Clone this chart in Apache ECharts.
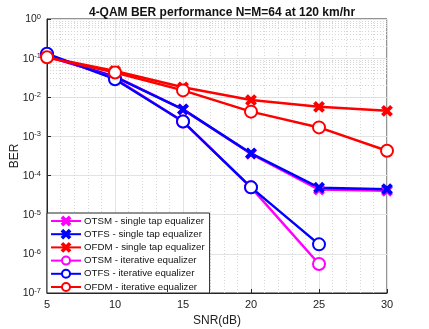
<!DOCTYPE html>
<html>
<head>
<meta charset="utf-8">
<script src="https://cdn.jsdelivr.net/npm/echarts@6/dist/echarts.min.js"></script>
<style>
  html, body { margin: 0; padding: 0; background: #fff; }
  #chart { width: 429px; height: 329px; }
</style>
</head>
<body>
<div id="chart"></div>
<script>
  // SNR points (dB)
  const snr = [5, 10, 15, 20, 25, 30]
  // BER
  const otsmSingle = [0.11, 0.034, 0.0049, 0.00036, 0.000044, 0.000041]
  const otfsSingle = [0.115, 0.033, 0.0049, 0.00037, 0.000049, 0.000045]
  const ofdmSingle = [0.105, 0.047, 0.018, 0.0085, 0.0057, 0.0045]
  const otsmIter = [0.125, 0.03, 0.0024, 0.00005, 0.00000055]
  const otfsIter = [0.13, 0.029, 0.0024, 0.00005, 0.00000175]
  const ofdmIter = [0.105, 0.043, 0.015, 0.0043, 0.0017, 0.00043]
  const yTicks = [1e-7, 1e-6, 1e-5, 1e-4, 1e-3, 1e-2, 1e-1, 1]

  const cross = 'path://M1.5,0L5,3.5L8.5,0L10,1.5L6.5,5L10,8.5L8.5,10L5,6.5L1.5,10L0,8.5L3.5,5L0,1.5Z'
  const font = 'Liberation Sans, Arial, sans-serif'

  // dotted minor grid lines at 2..9 x 10^n
  const minorY = []
  for (let e = -7; e < 0; e++) {
    for (let m = 2; m <= 9; m++) minorY.push({ yAxis: m * Math.pow(10, e) })
  }

  function pairs(vals) {
    return vals.map((v, i) => [snr[i], v])
  }

  function mkSeries(name, vals, color, isCross) {
    return {
      name: name,
      type: 'line',
      data: pairs(vals),
      color: color,
      symbol: isCross ? cross : 'emptyCircle',
      symbolSize: isCross ? 9 : 12,
      showAllSymbol: true,
      lineStyle: { width: 2.5, color: color },
      itemStyle: { color: color, borderColor: color, borderWidth: 2 },
      emphasis: { disabled: true },
      z: 3
    }
  }

  const chart = echarts.init(document.getElementById('chart'))
  const series = [
    mkSeries('OTSM - single tap equalizer', otsmSingle, '#ff00ff', true),
    mkSeries('OTFS - single tap equalizer', otfsSingle, '#0000ff', true),
    mkSeries('OFDM - single tap equalizer', ofdmSingle, '#ff0000', true),
    mkSeries('OTSM - iterative equalizer', otsmIter, '#ff00ff', false),
    mkSeries('OTFS - iterative equalizer', otfsIter, '#0000ff', false),
    mkSeries('OFDM - iterative equalizer', ofdmIter, '#ff0000', false)
  ]
  // minor grid on the first series
  series[0].markLine = {
    silent: true,
    symbol: 'none',
    label: { show: false },
    lineStyle: { color: '#d6d6d6', type: [1, 2], width: 1 },
    data: minorY,
    z: 0
  }

  chart.setOption({
    animation: false,
    backgroundColor: '#fff',
    textStyle: { fontFamily: font },
    title: {
      text: '4-QAM BER performance N=M=64 at 120 km/hr',
      left: 217,
      textAlign: 'center',
      top: 2,
      textStyle: { fontSize: 12, fontWeight: 'bold', color: '#111', fontFamily: font }
    },
    grid: {
      left: 47, right: 42, top: 19, bottom: 36,
      containLabel: false,
      outerBoundsMode: 'none',
      show: true, borderColor: '#262626', borderWidth: 1
    },
    legend: {
      orient: 'vertical',
      left: 47,
      bottom: 36,
      z: 10,
      backgroundColor: '#fff',
      borderColor: '#262626',
      borderWidth: 1,
      padding: [3, 5, 1, 3],
      itemWidth: 30,
      itemHeight: 10,
      itemGap: 3.2,
      textStyle: { fontSize: 9.7, color: '#111', fontFamily: font, padding: [0, 0, 0, -2] },
      data: series.map(s => s.name)
    },
    xAxis: {
      type: 'value',
      min: 5, max: 30, interval: 5,
      name: 'SNR(dB)',
      nameLocation: 'middle',
      nameGap: 22,
      nameMoveOverlap: false,
      nameTextStyle: { fontSize: 12, color: '#222' },
      axisLine: { show: true, lineStyle: { color: '#262626' } },
      axisTick: { inside: true, length: 4, lineStyle: { color: '#262626' } },
      axisLabel: { fontSize: 11, color: '#222', margin: 6 },
      splitLine: { show: true, lineStyle: { color: '#e3e3e3' } },
      minorTick: { show: false, splitNumber: 5 },
      minorSplitLine: { show: true, lineStyle: { color: '#d6d6d6', type: [1, 2] } }
    },
    yAxis: {
      type: 'log',
      logBase: 10,
      min: yTicks[0], max: yTicks[yTicks.length - 1],
      name: 'BER',
      nameLocation: 'middle',
      nameGap: 26,
      nameMoveOverlap: false,
      nameTextStyle: { fontSize: 12, color: '#222' },
      axisLine: { show: true, lineStyle: { color: '#262626' } },
      axisTick: { inside: true, length: 4, lineStyle: { color: '#262626' } },
      axisLabel: {
        color: '#222',
        margin: 6,
        formatter: function (v) {
          return '{b|10}{e|' + Math.round(Math.log10(v)) + '}'
        },
        rich: {
          b: { fontSize: 10.5, color: '#222', lineHeight: 12, verticalAlign: 'bottom' },
          e: { fontSize: 7.5, color: '#222', lineHeight: 8, verticalAlign: 'top', padding: [0, 0, 7, 0] }
        }
      },
      splitLine: { show: true, lineStyle: { color: '#e3e3e3' } }
    },
    series: series
  })
</script>
</body>
</html>
